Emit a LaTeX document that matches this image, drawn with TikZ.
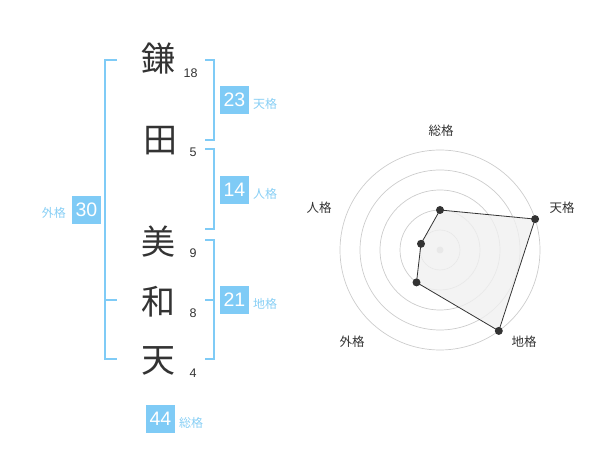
\documentclass[tikz,border=0pt]{standalone}
\usepackage{fontspec}
\setmainfont{Liberation Sans}
\newfontfamily\jpfont{Noto Sans CJK JP}
\definecolor{sky}{HTML}{7FCBF6}
\definecolor{skytext}{HTML}{88CFF5}
\definecolor{ink}{HTML}{333333}
\definecolor{ring}{HTML}{CCCCCC}
\definecolor{area}{HTML}{F0F0F0}
\tikzset{
  kanji/.style={inner sep=0pt, text=ink, font=\jpfont\fontsize{34}{34}\selectfont},
  stroke/.style={inner sep=0pt, text=ink, font=\fontsize{12.5}{13}\selectfont},
  numbox/.style={fill=sky, text=white, minimum width=29pt, minimum height=28pt, inner sep=0pt, font=\fontsize{19.5}{20}\selectfont},
  kaku/.style={inner sep=0pt, text=skytext, font=\jpfont\fontsize{12}{12}\selectfont},
  brack/.style={draw=sky, line width=2pt},
  radlab/.style={inner sep=0pt, text=ink, font=\jpfont\fontsize{12.5}{13}\selectfont},
  ringline/.style={draw=ring, line width=0.7pt},
  dot/.style={circle, fill=ink, inner sep=0pt, minimum size=8pt},
}
\begin{document}
\begin{tikzpicture}[x=1pt,y=-1pt]
\useasboundingbox (0,0) rectangle (600,470);
% name characters
\node[kanji] (k1) at (158,59) {鎌};
\node[kanji] (k2) at (160,141) {田};
\node[kanji] (k3) at (158,242) {美};
\node[kanji] (k4) at (158,302) {和};
\node[kanji] (k5) at (158,361) {天};
\node[stroke] (s1) at (190.5,73) {18};
\node[stroke] (s2) at (193,152) {5};
\node[stroke] (s3) at (193,253) {9};
\node[stroke] (s4) at (193,313) {8};
\node[stroke] (s5) at (193,373) {4};
% brackets
\draw[brack] (117,60) -- (105,60) -- (105,359) -- (117,359);
\draw[brack] (105,300) -- (117,300);
\draw[brack] (205,60) -- (214,60) -- (214,140) -- (205,140);
\draw[brack] (205,149) -- (214,149) -- (214,229) -- (205,229);
\draw[brack] (205,240) -- (214,240) -- (214,359) -- (205,359);
\draw[brack] (205,300) -- (214,300);
% boxes
\node[numbox] (b1) at (234.5,100) {23};
\node[kaku, anchor=west] (l1) at (253,104) {天格};
\node[numbox] (b2) at (234.5,190) {14};
\node[kaku, anchor=west] (l2) at (253,194) {人格};
\node[numbox] (b3) at (234.5,300) {21};
\node[kaku, anchor=west] (l3) at (253,304) {地格};
\node[numbox] (b4) at (86.5,210) {30};
\node[kaku, anchor=east] (l4) at (66,213) {外格};
\node[numbox] (b5) at (160.5,419) {44};
\node[kaku, anchor=west] (l5) at (179,423) {総格};
% radar
\coordinate (c) at (440,250);
\foreach \r in {20,40,60,80,100} \draw[ringline] (c) circle[radius=\r];
\fill[ring] (c) circle[radius=3.5];
\coordinate (p1) at (440,210);
\coordinate (p2) at (535.1,219.1);
\coordinate (p3) at (498.8,330.9);
\coordinate (p4) at (416.5,282.4);
\coordinate (p5) at (421,243.8);
\draw[fill=area, fill opacity=0.8, draw=ink, line width=0.8pt] (p1) -- (p2) -- (p3) -- (p4) -- (p5) -- cycle;
\foreach \p in {p1,p2,p3,p4,p5} \node[dot] at (\p) {};
\node[radlab] (r1) at (441,131) {総格};
\node[radlab] (r2) at (562,208) {天格};
\node[radlab] (r3) at (524,342) {地格};
\node[radlab] (r4) at (352,342) {外格};
\node[radlab] (r5) at (319,208) {人格};
\end{tikzpicture}
\end{document}
